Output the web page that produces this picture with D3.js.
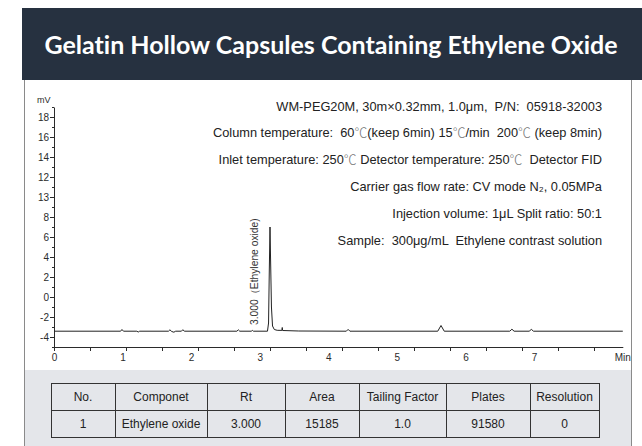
<!DOCTYPE html>
<html>
<head>
<meta charset="utf-8">
<script src="https://cdn.jsdelivr.net/npm/d3@7"></script>
<style>
  html, body { margin: 0; padding: 0; background: #fff; }
  svg { display: block; font-family: "Liberation Sans", Arial, sans-serif; }
</style>
</head>
<body>
<svg id="chart" width="642" height="446"></svg>
<script>
// ---- content ----
const titleText = "Gelatin Hollow Capsules Containing Ethylene Oxide";

// y axis (mV): tick positions and the labels printed beside them
const yTickValues = [-4, -2, 0, 2, 4, 6, 8, 10, 12, 14, 16, 18];
const yTickLabels = ["-4", "-2", "0", "2", "4", "6", "8", "13", "12", "14", "16", "18"];
const yUnit = "mV";

// x axis (minutes)
const xTickLabels = ["0", "1", "2", "3", "4", "5", "6", "7"];
const xUnit = "Min";

// chromatogram trace: retention time (min) and detector signal (mV)
const timeMin = [
  0.000, 0.925, 0.944, 0.965, 1.150, 1.170, 1.190,
  1.590, 1.610, 1.635, 1.665, 1.690, 1.770, 1.790, 1.810,
  2.540, 2.560, 2.580, 2.740, 2.755, 2.770,
  2.965, 2.980, 2.990, 3.000, 3.010, 3.020, 3.035, 3.060, 3.100,
  3.165, 3.170, 3.175, 3.400,
  4.060, 4.085, 4.110, 5.330, 5.375, 5.420,
  6.330, 6.360, 6.390, 6.600, 6.630, 6.660, 7.900
];
const signalMv = [
  -3.42, -3.42, -3.25, -3.42, -3.42, -3.50, -3.42,
  -3.42, -3.28, -3.45, -3.52, -3.42, -3.42, -3.27, -3.42,
  -3.42, -3.28, -3.42, -3.42, -3.34, -3.42,
  -3.42, -2.60, 2.50, 7.00, 3.00, -1.00, -2.90, -3.25, -3.33,
  -3.34, -3.05, -3.35, -3.40,
  -3.42, -3.24, -3.42, -3.42, -2.85, -3.42,
  -3.42, -3.22, -3.42, -3.42, -3.24, -3.42, -3.42
];

// identified peak
const peakTime = 3.000;
const peakName = "Ethylene oxide";

// method conditions (℃ drawn with its own glyph style)
const conditionLines = [
  "WM-PEG20M, 30m×0.32mm, 1.0μm,  P/N:  05918-32003",
  "Column temperature:  60℃(keep 6min) 15℃/min  200℃ (keep 8min)",
  "Inlet temperature: 250℃ Detector temperature: 250℃  Detector FID",
  "Carrier gas flow rate: CV mode N₂, 0.05MPa",
  "Injection volume: 1μL Split ratio: 50:1",
  "Sample:  300μg/mL  Ethylene contrast solution"
];

// results table
const tableHeader = ["No.", "Componet", "Rt", "Area", "Tailing Factor", "Plates", "Resolution"];
const tableRow = ["1", "Ethylene oxide", "3.000", "15185", "1.0", "91580", "0"];

// ---- drawing ----
const svg = d3.select("#chart");
const ink = "#2b2b2b";

// header band and title
svg.append("rect").attr("x", 22).attr("y", 8).attr("width", 620).attr("height", 72)
  .attr("fill", "#263140");
svg.append("text").attr("x", 331).attr("y", 54)
  .attr("text-anchor", "middle").attr("fill", "#fff")
  .style("font-family", "Lato, 'Open Sans', sans-serif")
  .style("font-weight", 700).style("font-size", "25px")
  .style("font-variant-ligatures", "none")
  .text(titleText);

// panel frame and the shaded table area
svg.append("rect").attr("x", 24).attr("y", 370).attr("width", 607).attr("height", 76)
  .attr("fill", "#e4e6ea");
svg.append("line").attr("x1", 24.5).attr("x2", 24.5).attr("y1", 80).attr("y2", 446)
  .attr("stroke", "#8a8a8a");
svg.append("line").attr("x1", 631.5).attr("x2", 631.5).attr("y1", 80).attr("y2", 446)
  .attr("stroke", "#8a8a8a");

// scales
const x = d3.scaleLinear().domain([0, 7.9]).range([54, 622.8]);
// minute labels are printed on their own, slightly tighter, spacing
const xLabel = d3.scaleLinear().domain([0, 7]).range([54, 534]);
const y = d3.scaleLinear().domain([-5, 19]).range([347, 107]);

// x axis: line with ticks every half minute
const gx = svg.append("g").attr("transform", `translate(0,${y(-5)})`)
  .call(d3.axisBottom(x).tickValues(d3.range(0, 7.51, 0.5)).tickSize(4)
    .tickSizeOuter(0).tickFormat(""));
gx.select(".domain").attr("stroke", ink);
gx.selectAll(".tick line").attr("stroke", ink);

const gxl = svg.append("g").attr("transform", `translate(0,${y(-5)})`)
  .call(d3.axisBottom(xLabel).tickValues(d3.range(0, 7.01, 1)).tickSize(0).tickPadding(7)
    .tickFormat((d, i) => xTickLabels[i]));
gxl.select(".domain").remove();
gxl.selectAll("text").attr("fill", ink).style("font-size", "10px")
  .style("font-family", "'Liberation Sans', Arial, sans-serif");

svg.append("text").attr("x", x(7.9)).attr("y", y(-5) + 11)
  .attr("text-anchor", "middle").attr("dy", "0.32em")
  .attr("fill", ink).style("font-size", "10px").text(xUnit);

// y axis: labelled ticks every 2 mV, minor ticks between
const gyMinor = svg.append("g").attr("transform", `translate(${x(0)},0)`)
  .call(d3.axisLeft(y).tickValues(d3.range(-5, 19.01, 1)).tickSize(2).tickFormat(""));
gyMinor.select(".domain").remove();
gyMinor.selectAll(".tick line").attr("stroke", ink);

const gy = svg.append("g").attr("transform", `translate(${x(0)},0)`)
  .call(d3.axisLeft(y).tickValues(yTickValues).tickSize(4).tickSizeOuter(0).tickPadding(1)
    .tickFormat((d, i) => yTickLabels[i]));
gy.select(".domain").attr("stroke", ink);
gy.selectAll(".tick line").attr("stroke", ink);
gy.selectAll("text").attr("fill", ink).style("font-size", "10px")
  .style("font-family", "'Liberation Sans', Arial, sans-serif");

svg.append("text").attr("x", 37).attr("y", 100).attr("dy", "0.32em")
  .attr("fill", ink).style("font-size", "9px").text(yUnit);

// chromatogram trace
const points = timeMin.map((t, i) => [t, signalMv[i]]);
svg.append("path").datum(points)
  .attr("fill", "none").attr("stroke", "#222").attr("stroke-width", 1)
  .attr("stroke-linejoin", "round")
  .attr("d", d3.line().x(d => x(d[0])).y(d => y(d[1])));

// peak annotation (rotated)
const peakLabelX = x(peakTime) - 16;
const peakLabelY = y(-2.8);
svg.append("text")
  .attr("transform", `translate(${peakLabelX},${peakLabelY}) rotate(-90)`)
  .attr("dy", "0.35em").attr("fill", "#333")
  .style("font-size", "10.3px")
  .text(`${peakTime.toFixed(3)}（${peakName})`);

// method conditions, right aligned
const condG = svg.append("g").attr("fill", "#222").style("font-size", "12.8px")
  .style("white-space", "pre");
conditionLines.forEach((line, i) => {
  const t = condG.append("text").attr("x", 602).attr("y", 110.5 + i * 26.8)
    .attr("text-anchor", "end").attr("xml:space", "preserve");
  line.split(/(℃)/).filter(s => s.length).forEach(part => {
    const span = t.append("tspan").text(part);
    if (part === "℃") {
      span.style("font-family", "'Noto Sans CJK SC', sans-serif")
        .style("font-weight", 300).attr("fill", "#777");
    }
  });
});

// results table
const colEdges = [51, 115, 207, 285, 359, 446, 530, 599];
const rowEdges = [383, 410, 437];
const tg = svg.append("g");
[tableHeader, tableRow].forEach((row, r) => {
  row.forEach((cell, c) => {
    tg.append("rect")
      .attr("x", colEdges[c] + 0.5).attr("y", rowEdges[r] + 0.5)
      .attr("width", colEdges[c + 1] - colEdges[c]).attr("height", rowEdges[r + 1] - rowEdges[r])
      .attr("fill", "none").attr("stroke", "#333").attr("stroke-width", 1);
    tg.append("text")
      .attr("x", (colEdges[c] + colEdges[c + 1]) / 2)
      .attr("y", (rowEdges[r] + rowEdges[r + 1]) / 2)
      .attr("dy", "0.36em").attr("text-anchor", "middle")
      .attr("fill", "#222").style("font-size", "12px")
      .text(cell);
  });
});
</script>
</body>
</html>
